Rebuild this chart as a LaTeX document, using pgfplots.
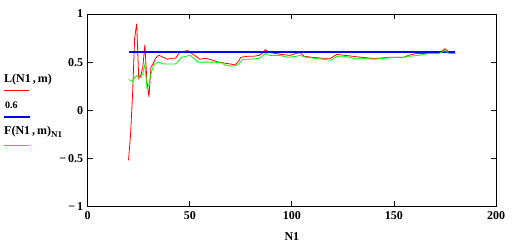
\documentclass[border=0pt]{standalone}
\usepackage{pgfplots}
\pgfplotsset{compat=1.18}
\usepackage{fontspec}
\setmainfont{Liberation Serif}
\definecolor{mcred}{RGB}{255,0,0}
\definecolor{mcgreen}{RGB}{0,255,0}
\definecolor{mcblue}{RGB}{0,0,255}
\begin{document}
\begin{tikzpicture}
\useasboundingbox (-87.7pt,-38.5pt) rectangle (426.3pt,206.5pt);
\begin{axis}[
  at={(0pt,0pt)}, anchor=south west,
  scale only axis, width=408.3pt, height=192.5pt,
  xmin=0, xmax=200, ymin=-1, ymax=1,
  xtick={0,50,100,150,200},
  ytick={-1,-0.5,0,0.5,1},
  yticklabels={{−\,1},{−\,0.5},{0},{0.5},{1}},
  xticklabels={0,50,100,150,200},
  tick align=inside, major tick length=5pt,
  tick style={black, line width=0.8pt},
  axis line style={line width=0.8pt},
  tick label style={font=\fontsize{12}{12}\selectfont\bfseries},
  /pgf/number format/assume math mode=true,
  xticklabel style={yshift=-1pt},
  yticklabel style={xshift=-1pt},
  xlabel={\textbf{N1}},
  xlabel style={font=\fontsize{12}{12}\selectfont, at={(axis description cs:0.5,0)}, anchor=center, yshift=-30.2pt},
  clip=false,
]
\addplot[mcred, line width=0.8pt] coordinates {
(20,-0.52) (21,-0.25) (22,0.18) (23,0.75) (24,0.90) (25,0.33) (26,0.36) (27,0.45) (28,0.68) (29,0.30) (30,0.14)
(31,0.45) (32,0.48) (33,0.53) (34,0.56) (35,0.57) (37,0.55) (39,0.53) (41,0.54) (43,0.54) (45,0.60) (47,0.61)
(49,0.62) (51,0.59) (53,0.56) (55,0.53) (58,0.54) (61,0.52) (64,0.50) (67,0.49) (70,0.48) (72,0.47) (73.6,0.50)
(75,0.55) (78,0.56) (81,0.56) (84,0.57) (86,0.60) (87,0.63) (89,0.60) (92,0.59) (95,0.58) (99,0.57) (102,0.59)
(104,0.60) (106,0.56) (110,0.55) (115,0.54) (119,0.54) (122,0.58) (126,0.57) (130,0.56) (134,0.55) (139,0.54)
(143,0.54) (147,0.55) (151,0.55) (155,0.55) (157,0.57) (161,0.59) (165,0.59) (169,0.59) (172,0.60) (174,0.62)
(175,0.64) (177,0.60) (180,0.60)
};
\addplot[mcblue, line width=2pt] coordinates {(20,0.6) (180,0.6)};
\addplot[mcgreen, line width=0.8pt] coordinates {
(20,0.32) (21,0.31) (22,0.30) (23,0.34) (24,0.36) (25,0.34) (26,0.34) (27,0.38) (28,0.48) (29,0.23) (30,0.26)
(31,0.38) (32,0.45) (33,0.49) (35,0.50) (37,0.48) (40,0.48) (43,0.48) (44,0.50) (46,0.55) (48,0.56) (50,0.57)
(52,0.54) (54,0.50) (58,0.50) (62,0.50) (66,0.49) (67,0.47) (70,0.46) (72,0.46) (74,0.48) (76,0.53) (80,0.53)
(84,0.54) (86,0.57) (87,0.59) (89,0.57) (94,0.57) (98,0.55) (102,0.56) (104,0.57) (107,0.55) (111,0.54)
(115,0.53) (119,0.52) (122,0.56) (126,0.56) (130,0.54) (135,0.54) (140,0.53) (145,0.54) (151,0.55) (155,0.55)
(157,0.56) (162,0.57) (167,0.59) (172,0.59) (174,0.61) (175,0.62) (177,0.59) (180,0.59)
};
\end{axis}
% legend (Mathcad-style trace labels)
\node[anchor=west, inner sep=0pt, font=\fontsize{12}{12}\selectfont\bfseries] at (-83.7pt,126.5pt) {L(N1\,,\,m)};
\draw[mcred, line width=0.8pt] (-83.7pt,115.8pt) -- (-58.7pt,115.8pt);
\node[anchor=west, inner sep=0pt, font=\fontsize{10}{10}\selectfont\bfseries] at (-82.7pt,101.5pt) {0.6};
\draw[mcblue, line width=2pt] (-83.7pt,89.8pt) -- (-57.7pt,89.8pt);
\node[anchor=west, inner sep=0pt, font=\fontsize{12}{12}\selectfont\bfseries] at (-83.7pt,74.8pt) {F(N1\,,\,m)\raisebox{-3pt}{\fontsize{9}{9}\selectfont N1}};
\draw[mcgreen, line width=0.8pt] (-83.7pt,61.5pt) -- (-58.7pt,61.5pt);
\end{tikzpicture}
\end{document}
